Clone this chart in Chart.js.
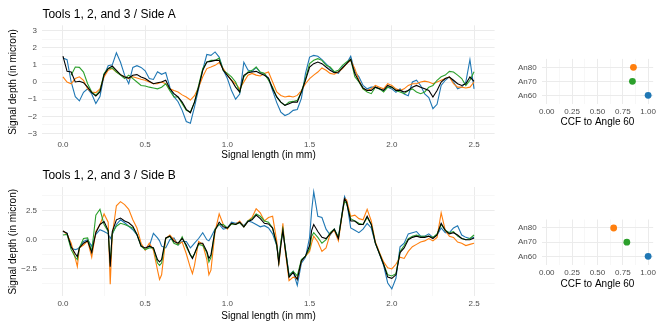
<!DOCTYPE html>
<html lang="en">
<head>
<meta charset="UTF-8">
<title>Tools 1, 2, and 3 signals</title>
<script src="https://cdn.jsdelivr.net/npm/chart.js@4.4.1/dist/chart.umd.min.js"></script>
<style>
  body { margin: 0; background: #fff; }
  .wrap { position: relative; width: 664px; height: 332px; overflow: hidden; }
  canvas { position: absolute; }
</style>
</head>
<body>
<div class="wrap">
  <canvas id="sideA" width="500" height="165" style="left:0;top:0"></canvas>
  <canvas id="ccfA" width="164" height="90" style="left:500px;top:40px"></canvas>
  <canvas id="sideB" width="500" height="166" style="left:0;top:160px"></canvas>
  <canvas id="ccfB" width="164" height="91" style="left:500px;top:201px"></canvas>
</div>
<script>
// ---- data ----
const angleNames = ['An60', 'An70', 'An80'];
const angleColours = ['#1f77b4', '#2ca02c', '#ff7f0e'];

const ccfA = [1.0, 0.845, 0.855];
const ccfB = [1.0, 0.79, 0.66];

// Side A signals, signal length in mm
const xA = [0,0.025,0.05,0.075,0.1,0.125,0.15,0.175,0.2,0.225,
  0.25,0.275,0.3,0.325,0.35,0.375,0.4,0.425,0.45,0.475,
  0.5,0.525,0.55,0.575,0.6,0.625,0.65,0.675,0.7,0.725,
  0.75,0.775,0.8,0.825,0.85,0.875,0.9,0.925,0.95,0.975,
  1.0,1.025,1.05,1.075,1.1,1.125,1.15,1.175,1.2,1.225,
  1.25,1.275,1.3,1.325,1.35,1.375,1.4,1.425,1.45,1.475,
  1.5,1.525,1.55,1.575,1.6,1.625,1.65,1.675,1.7,1.725,
  1.75,1.775,1.8,1.825,1.85,1.875,1.9,1.925,1.95,1.975,
  2.0,2.025,2.05,2.075,2.1,2.125,2.15,2.175,2.2,2.225,
  2.25,2.275,2.3,2.325,2.35,2.375,2.4,2.425,2.45,2.475,
  2.5];
const an60A = [1.4,1.3,0.0,-0.85,-1.1,-0.6,-0.4,-0.7,-1.25,-0.85,
  0.4,0.95,1.0,1.7,1.15,0.4,-0.1,0.85,0.95,0.85,
  0.65,0.2,0.15,0.6,0.45,0.55,-0.3,-0.85,-1.15,-1.65,
  -2.3,-2.4,-1.45,-0.4,0.7,1.6,1.55,1.75,1.45,0.7,
  0.2,-0.5,-1.0,-0.7,1.15,0.7,0.6,0.85,0.55,0.5,
  0.2,-0.5,-1.2,-1.75,-1.95,-1.85,-1.65,-1.6,-0.95,0.5,
  1.45,1.55,1.5,1.3,1.05,0.8,0.58,0.5,0.87,1.07,
  1.5,0.6,0.3,-0.2,-0.4,-0.3,-0.3,-0.4,-0.5,-0.3,
  -0.4,-0.6,-0.4,-0.7,-0.8,0.0,0.1,-0.2,-0.7,-0.9,
  -1.55,-1.3,-0.2,0.1,0.3,0.0,-0.4,-0.3,0.0,1.3,
  -0.4];
const an80A = [0.3,0.0,-0.1,0.2,0.3,0.1,-0.4,-0.58,-0.62,-0.4,
  0.3,0.68,0.78,0.58,0.43,0.3,0.2,0.3,0.23,0.16,
  0.1,0.0,-0.1,-0.1,0.0,-0.1,-0.4,-0.5,-0.58,-0.75,
  -0.87,-1.05,-0.8,-0.3,0.3,0.78,0.87,0.97,1.13,0.78,
  0.4,0.1,-0.1,-0.4,0.0,0.4,0.5,0.4,0.35,0.5,
  0.58,0.0,-0.58,-0.78,-0.87,-0.82,-0.87,-0.78,-0.5,-0.1,
  0.2,0.4,0.58,0.82,0.68,0.5,0.45,0.58,0.78,1.07,
  1.26,0.78,0.1,-0.4,-0.5,-0.4,-0.2,-0.3,-0.4,-0.1,
  -0.2,-0.4,-0.5,-0.4,-0.2,-0.1,-0.1,0.0,0.05,0.0,
  -0.1,0.0,0.1,0.2,0.3,-0.1,-0.3,-0.3,-0.35,-0.3,
  0.0];
const an70A = [null,null,0.4,0.87,0.85,0.58,-0.1,-0.58,-0.78,-0.5,
  0.5,0.78,0.82,0.58,0.4,0.2,0.4,0.2,0.0,-0.2,
  -0.23,-0.3,-0.35,-0.4,-0.3,-0.1,-0.5,-0.87,-0.87,-1.26,
  -1.65,-1.75,-1.17,-0.2,0.78,1.16,1.26,1.26,1.4,0.68,
  0.5,0.3,0.0,-0.58,0.3,0.58,0.68,0.87,0.58,0.5,
  0.1,-0.3,-0.87,-1.17,-1.36,-1.17,-1.13,-1.07,-0.58,0.2,
  1.07,1.26,1.36,1.26,0.97,0.87,0.6,0.68,0.97,1.16,
  1.32,0.3,0.0,-0.4,-0.58,-0.68,-0.3,-0.4,-0.58,-0.3,
  -0.3,-0.5,-0.58,-0.68,-0.5,-0.4,-0.58,-0.68,-0.58,-0.3,
  -0.2,0.1,0.3,0.4,0.62,0.58,0.4,0.2,-0.2,0.1,
  0.6];
const meanA = [1.5,0.62,0.58,0.0,0.04,-0.04,-0.3,-0.62,-0.82,-0.58,
  0.43,0.78,0.93,0.68,0.43,0.29,0.23,0.39,0.43,0.29,
  0.2,0.04,-0.1,-0.04,0.0,0.1,-0.39,-0.68,-0.87,-1.17,
  -1.59,-1.79,-1.17,-0.3,0.68,1.16,1.2,1.26,1.26,0.68,
  0.39,0.1,-0.3,-0.58,0.39,0.54,0.58,0.62,0.49,0.39,
  0.23,-0.39,-0.87,-1.17,-1.36,-1.26,-1.17,-1.17,-0.58,0.1,
  0.87,1.07,1.16,1.07,0.87,0.68,0.54,0.58,0.82,1.07,
  1.32,0.49,0.04,-0.35,-0.49,-0.49,-0.3,-0.39,-0.49,-0.2,
  -0.3,-0.49,-0.49,-0.58,-0.49,-0.3,-0.2,-0.3,-0.39,-0.49,
  -0.87,-0.49,0.0,0.2,0.29,0.1,-0.1,-0.2,-0.1,0.29,
  0.04];

// Side B signals
const xB = [0,0.025,0.05,0.075,0.0875,0.1,0.125,0.15,0.175,0.2,
  0.225,0.25,0.275,0.2875,0.3,0.325,0.35,0.375,0.4,0.425,
  0.45,0.475,0.5,0.525,0.55,0.575,0.5875,0.6,0.625,0.65,
  0.675,0.7,0.725,0.75,0.775,0.7875,0.8,0.825,0.85,0.875,
  0.8875,0.9,0.925,0.95,0.975,1.0,1.025,1.05,1.075,1.1,
  1.125,1.15,1.175,1.2,1.225,1.25,1.275,1.3,1.3125,1.325,
  1.3375,1.35,1.375,1.4,1.425,1.45,1.475,1.5,1.5125,1.525,
  1.55,1.575,1.6,1.625,1.65,1.675,1.7,1.7125,1.725,1.75,
  1.775,1.8,1.825,1.85,1.875,1.9,1.925,1.95,1.975,2.0,
  2.025,2.05,2.075,2.1,2.125,2.15,2.175,2.2,2.225,2.25,
  2.275,2.3,2.325,2.35,2.375,2.4,2.425,2.45,2.475,2.5];
const an60B = [0.7,0.55,-0.7,-0.85,-0.8,-0.65,-0.15,0,-0.55,0.45,
  0.85,0.7,0.5,0.1,0.45,1.3,1.7,1.45,1.15,0.85,
  0.4,-0.45,-0.85,-0.55,0.55,0.15,-0.1,-0.55,-0.7,0,
  0.15,-0.45,-0.15,-0.15,-0.7,-0.5,-0.3,0.1,0.6,0,
  -0.1,0.2,0.9,1.3,0.9,1.0,1.5,1.4,1.5,1.2,
  1.6,1.5,1.3,1.1,1.2,1.0,0.5,-0.5,-1.6,-0.3,
  0.7,-0.5,-3.0,-2.7,-3.9,-2.0,-1.5,0.2,2.5,4.1,
  2.0,1.9,0.9,0.4,0.9,0.2,2.5,3.7,3.3,1.0,
  0.8,0.6,0.9,1.4,1.0,-0.3,-1.2,-2.2,-3.7,-4.2,
  -3.3,-0.6,-0.3,0.5,0.6,0.7,0.3,0.3,0.5,0.2,
  0.4,1.0,0.6,0.6,1.0,1.2,0.4,0.2,0.1,0.2];
const an80B = [0.75,0.45,-0.3,-1.6,-2.3,-0.7,-0.45,-0.1,-1.5,0.7,
  1.3,2.2,1.5,-3.8,0.4,2.9,3.25,3.0,2.6,1.7,
  1.0,-0.3,-0.9,-0.3,-0.9,-2.6,-3.4,-3.0,0.1,0.4,
  0,-0.4,-0.2,-1.2,-2.4,-2.9,-2.2,-0.15,-0.4,-1.7,
  -3.0,-2.6,0.7,2.2,1.3,0.9,1.4,1.3,1.6,1.1,
  1.6,1.9,2.65,2.3,1.6,1.9,2.0,-0.1,-2.2,-0.5,
  1.4,-0.8,-3.5,-3.2,-3.3,-1.8,-1.4,-1.0,-0.3,0.3,
  -0.2,-1.0,-0.7,0.5,0.8,-0.1,2.3,3.5,3.4,2.0,
  2.1,1.8,1.7,2.6,1.6,-0.2,-1.1,-1.9,-2.4,-2.5,
  -2.1,-1.5,-1.6,-1.0,-0.6,-0.4,-0.2,-0.1,0.1,-0.1,
  0.2,2.3,0.8,0.3,0.2,-0.2,-0.3,-0.5,-0.4,-0.3];
const an70B = [0.4,0.45,-0.85,-1.5,-1.7,-0.7,0.1,0.15,-1.0,2.1,
  2.6,1.3,0.7,-2.0,0.55,1.15,1.4,1.3,1.15,1.0,
  0.45,-0.55,-0.85,-0.7,-0.7,-2.0,-2.2,-2.0,0.1,0.3,
  -0.3,-0.45,0.25,-0.6,-1.3,-1.5,-1.2,-0.4,-0.5,-1.1,
  -1.9,-1.5,0.9,1.3,1.3,1.0,1.35,1.3,1.45,1.1,
  1.6,1.8,2.2,2.0,1.6,1.5,1.0,-0.5,-1.9,-0.2,
  0.9,-0.5,-3.1,-2.7,-3.1,-1.7,-1.4,-0.8,0.3,0.6,
  0.2,-0.3,0,0.6,0.9,0.2,2.4,3.3,3.1,1.8,
  1.6,1.4,1.3,1.9,1.3,-0.3,-1.2,-2.1,-3.0,-3.1,
  -2.9,-1.0,-0.5,0.1,0.3,0.4,0.3,0.3,0.3,0.2,
  0.5,1.3,0.8,0.6,0.7,0.3,0.1,0,0.1,0.4];
const meanB = [0.75,0.55,-0.6,-1.2,-1.45,-0.7,-0.3,-0.1,-1.1,0.6,
  1.3,1.55,0.8,-2.3,0.7,1.7,1.85,1.6,1.45,1.15,
  0.45,-0.55,-0.7,-0.55,-0.7,-1.7,-1.9,-1.7,0.15,0.3,
  -0.15,-0.3,0.1,-0.45,-1.3,-1.6,-1.2,-0.3,-0.3,-1.0,
  -1.6,-1.3,0.8,1.5,1.1,1.0,1.4,1.3,1.5,1.1,
  1.55,1.7,2.1,1.8,1.4,1.35,1.0,-0.4,-2.0,-0.5,
  0.8,-0.6,-3.2,-2.8,-3.4,-1.8,-1.4,-0.5,0.8,1.3,
  0.7,0.2,0.1,0.5,0.9,0.1,2.4,3.5,3.2,1.6,
  1.6,1.3,1.3,2.0,1.3,-0.3,-1.2,-2.1,-3.2,-3.3,
  -3.0,-1.1,-0.7,0,0.2,0.3,0.2,0.2,0.3,0.1,
  0.4,1.4,0.8,0.5,0.6,0.4,0.1,0,0,0.15];

// axis breaks
const lengthTicks = [0, 0.25, 0.5, 0.75, 1, 1.25, 1.5, 1.75, 2, 2.25, 2.5];
const lengthMajor = [0, 0.5, 1, 1.5, 2, 2.5];
const depthTicksA = [-3, -2.5, -2, -1.5, -1, -0.5, 0, 0.5, 1, 1.5, 2, 2.5, 3];
const depthMajorA = [-3, -2, -1, 0, 1, 2, 3];
const depthTicksB = [-3.75, -2.5, -1.25, 0, 1.25, 2.5, 3.75];
const depthMajorB = [-2.5, 0, 2.5];
const ccfTicks = [0, 0.125, 0.25, 0.375, 0.5, 0.625, 0.75, 0.875, 1];
const ccfMajor = [0, 0.25, 0.5, 0.75, 1];

// ---- styling ----
const FONT = "'Liberation Sans', Arial, Helvetica, sans-serif";
const TICK_GREY = '#4d4d4d';
const GRID_MAJOR = '#ebebeb';
const GRID_MINOR = '#f4f4f4';

const isIn = (list, v) => list.some(m => Math.abs(m - v) < 1e-9);
const withMinus = s => s.replace('-', '\u2212');

function fixedTicks(values) {
  return scale => { scale.ticks = values.map(v => ({ value: v })); };
}

function gridStyle(majors) {
  return {
    color: ctx => isIn(majors, ctx.tick.value) ? GRID_MAJOR : GRID_MINOR,
    lineWidth: ctx => isIn(majors, ctx.tick.value) ? 1 : 0.7,
    drawTicks: false
  };
}

function tickOpts(majors, fmt, padding) {
  return {
    autoSkip: false,
    maxRotation: 0,
    padding: padding,
    color: TICK_GREY,
    font: { family: FONT, size: 8 },
    callback: v => isIn(majors, v) ? withMinus(fmt(v)) : ''
  };
}

function line(label, xs, ys, colour) {
  return {
    label: label,
    data: xs.map((x, i) => ({ x: x, y: ys[i] })),
    borderColor: colour,
    borderWidth: 1.1,
    pointRadius: 0,
    tension: 0,
    fill: false
  };
}

function signalChart(id, opt) {
  new Chart(document.getElementById(id), {
    type: 'line',
    data: {
      datasets: [
        line('mean', opt.x, opt.mean, '#000000'),
        line('An70', opt.x, opt.an70, angleColours[1]),
        line('An80', opt.x, opt.an80, angleColours[2]),
        line('An60', opt.x, opt.an60, angleColours[0])
      ]
    },
    options: {
      responsive: false,
      animation: false,
      layout: { padding: { left: 0, right: 5.4, top: 0, bottom: 0 } },
      plugins: {
        legend: { display: false },
        tooltip: { enabled: false },
        title: {
          display: true, text: opt.title, align: 'start', fullSize: false,
          color: '#000', font: { family: FONT, size: 12, weight: 'normal' },
          padding: opt.titlePad
        }
      },
      scales: {
        x: {
          type: 'linear', min: -0.125, max: 2.625,
          afterBuildTicks: fixedTicks(lengthTicks),
          afterFit: s => { s.height = opt.xAxisH; },
          grid: gridStyle(lengthMajor),
          border: { display: false },
          ticks: tickOpts(lengthMajor, v => v.toFixed(1), opt.xTickPad),
          title: { display: true, text: 'Signal length (in mm)', color: '#000',
                   font: { family: FONT, size: 10 }, padding: { top: 0, bottom: 3.6 } }
        },
        y: {
          type: 'linear', min: opt.yMin, max: opt.yMax,
          afterBuildTicks: fixedTicks(opt.yTicks),
          afterFit: s => { s.width = 42.4; },
          grid: gridStyle(opt.yMajor),
          border: { display: false },
          ticks: tickOpts(opt.yMajor, opt.yFmt, 5.4),
          title: { display: true, text: 'Signal depth (in micron)', color: '#000',
                   font: { family: FONT, size: 10 }, padding: { top: 7.7, bottom: 0 } }
        }
      }
    }
  });
}

function ccfChart(id, values, opt) {
  new Chart(document.getElementById(id), {
    type: 'scatter',
    data: {
      datasets: [{
        data: values.map((v, i) => ({ x: v, y: i + 1 })),
        pointBackgroundColor: angleColours,
        pointBorderColor: angleColours,
        pointBorderWidth: 0,
        pointRadius: 3.4
      }]
    },
    options: {
      responsive: false,
      animation: false,
      layout: { padding: { left: 0, right: 10.8, top: opt.top, bottom: 0 } },
      plugins: { legend: { display: false }, tooltip: { enabled: false } },
      scales: {
        x: {
          type: 'linear', min: -0.05, max: 1.05,
          afterBuildTicks: fixedTicks(ccfTicks),
          afterFit: s => { s.height = opt.xAxisH; },
          grid: gridStyle(ccfMajor),
          border: { display: false },
          ticks: tickOpts(ccfMajor, v => v.toFixed(2), opt.tickPad),
          title: { display: true, text: 'CCF to Angle 60', color: '#000',
                   font: { family: FONT, size: 10 }, padding: { top: 0, bottom: opt.titleBottom } }
        },
        y: {
          type: 'linear', min: 0.4, max: 3.6,
          afterBuildTicks: fixedTicks([1, 2, 3]),
          afterFit: s => { s.width = 41.7; },
          grid: { color: GRID_MAJOR, lineWidth: 1, drawTicks: false },
          border: { display: false },
          ticks: {
            autoSkip: false, padding: 5, color: TICK_GREY,
            font: { family: FONT, size: 8 },
            callback: v => angleNames[v - 1]
          }
        }
      }
    }
  });
}

signalChart('sideA', {
  title: 'Tools 1, 2, and 3 / Side A',
  titlePad: { top: 7.2, bottom: 3.7 },
  xAxisH: 26.3, xTickPad: 1.5,
  x: xA, an60: an60A, an70: an70A, an80: an80A, mean: meanA,
  yMin: -3.3, yMax: 3.3, yTicks: depthTicksA, yMajor: depthMajorA,
  yFmt: v => String(v)
});

signalChart('sideB', {
  title: 'Tools 1, 2, and 3 / Side B',
  titlePad: { top: 8.9, bottom: 3.75 },
  xAxisH: 29.55, xTickPad: 2.5,
  x: xB, an60: an60B, an70: an70B, an80: an80B, mean: meanB,
  yMin: -4.85, yMax: 4.5, yTicks: depthTicksB, yMajor: depthMajorB,
  yFmt: v => v.toFixed(1)
});

ccfChart('ccfA', ccfA, { top: 18.9, xAxisH: 26.3, tickPad: 3.2, titleBottom: 2 });
ccfChart('ccfB', ccfB, { top: 18.5, xAxisH: 27.2, tickPad: 2.7, titleBottom: 1.4 });
</script>
</body>
</html>
